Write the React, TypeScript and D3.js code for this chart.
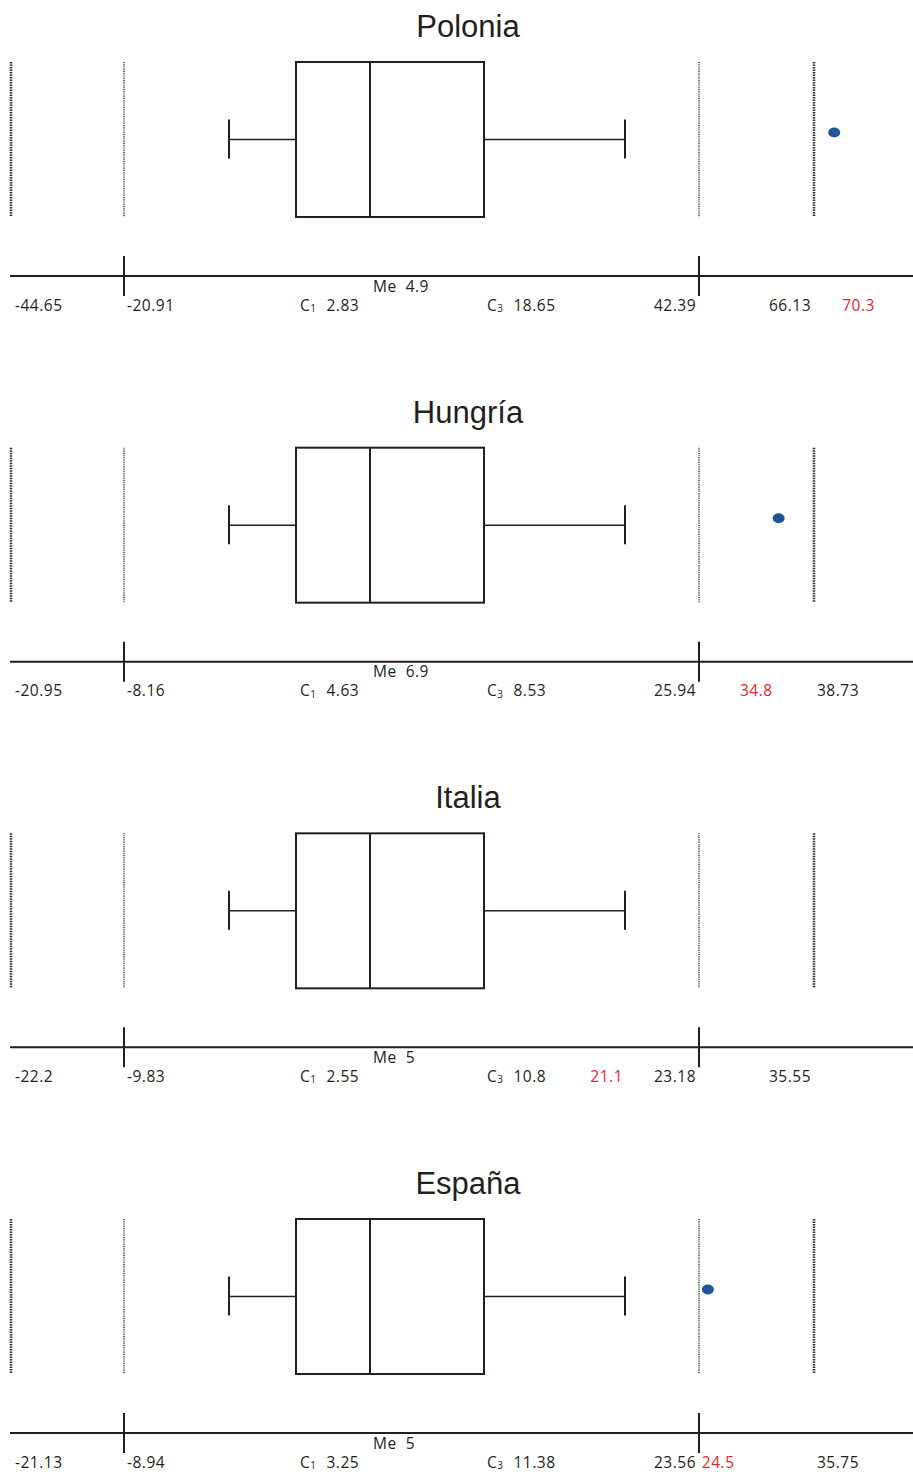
import React from 'react';
import { scaleLinear } from 'd3';

// values (C1 = first quartile, C3 = third quartile)
const countries = ['Polonia', 'Hungría', 'Italia', 'España'];
const outerLow = [-44.65, -20.95, -22.2, -21.13];
const innerLow = [-20.91, -8.16, -9.83, -8.94];
const whiskerLow = [-6.4, -0.4, -2.3, -1.5];
const q1 = [2.83, 4.63, 2.55, 3.25];
const median = [4.9, 6.9, 5, 5];
const q3 = [18.65, 8.53, 10.8, 11.38];
const whiskerHigh = [34.2, 19.9, 21.1, 19.4];
const innerHigh = [42.39, 25.94, 23.18, 23.56];
const outerHigh = [66.13, 38.73, 35.55, 35.75];
const outliers = [70.3, 34.8, null, 24.5];
const highlighted = [70.3, 34.8, 21.1, 24.5];

// schematic (non proportional) placement of the summary points
const stops = [11, 124, 229, 296, 370, 484, 625, 699, 814];
const outerHighAnchor = ['end', 'start', 'end', 'start'];
const redAnchor = ['start', 'end', 'end', 'start'];
const redDx = [8, -6, -2, -6];

const W = 913;
const H = 1472;
const panelH = 385.67;
const boxTop = 62;
const boxBottom = 217;
const axisY = 276;

const labelFont = '"Open Sans", sans-serif';

const Sub = ({ n, v }: { n: string; v: number }) => (
    <>
        <tspan>C</tspan>
        <tspan fontSize={10} dy={1.5}>{n}</tspan>
        <tspan dy={-1.5} dx={10}>{String(v)}</tspan>
    </>
);

const Panel = ({ i }: { i: number }) => {
    const x = scaleLinear()
        .domain([outerLow[i], innerLow[i], whiskerLow[i], q1[i], median[i], q3[i], whiskerHigh[i], innerHigh[i], outerHigh[i]])
        .range(stops);
    const midY = (boxTop + boxBottom) / 2;
    const out = outliers[i];
    const textProps = { fontFamily: labelFont, fontSize: 15.5, letterSpacing: 0.5, fill: '#231f20' };
    const labY = 310.5;

    return (
        <g transform={`translate(0,${i * panelH})`}>
            <text x={468} y={37} textAnchor="middle" fontFamily='"Liberation Sans", Arial, sans-serif' fontSize={31} fill="#231f20">
                {countries[i]}
            </text>

            {[outerLow[i], outerHigh[i]].map((v, k) => (
                <line key={'o' + k} x1={x(v)} x2={x(v)} y1={boxTop} y2={boxBottom}
                    stroke="#333" strokeWidth={2.6} strokeDasharray="1.5 1" />
            ))}
            {[innerLow[i], innerHigh[i]].map((v, k) => (
                <line key={'i' + k} x1={x(v)} x2={x(v)} y1={boxTop} y2={boxBottom}
                    stroke="#666" strokeWidth={1.8} strokeDasharray="1 0.8" />
            ))}

            {/* whiskers */}
            <line x1={x(whiskerLow[i])} x2={x(q1[i])} y1={midY} y2={midY} stroke="#231f20" strokeWidth={1.5} />
            <line x1={x(q3[i])} x2={x(whiskerHigh[i])} y1={midY} y2={midY} stroke="#231f20" strokeWidth={1.5} />
            {[whiskerLow[i], whiskerHigh[i]].map((v, k) => (
                <line key={'w' + k} x1={x(v)} x2={x(v)} y1={midY - 20} y2={midY + 19} stroke="#231f20" strokeWidth={2} />
            ))}

            {/* box */}
            <rect x={x(q1[i])} y={boxTop} width={x(q3[i]) - x(q1[i])} height={boxBottom - boxTop}
                fill="none" stroke="#231f20" strokeWidth={2} />
            <line x1={x(median[i])} x2={x(median[i])} y1={boxTop} y2={boxBottom} stroke="#231f20" strokeWidth={2} />

            {out !== null && (
                <ellipse cx={x(out)} cy={midY - 7} rx={6} ry={5} fill="#1f5595" />
            )}

            {/* axis */}
            <line x1={10} x2={W} y1={axisY} y2={axisY} stroke="#231f20" strokeWidth={2} />
            {[innerLow[i], innerHigh[i]].map((v, k) => (
                <line key={'t' + k} x1={x(v)} x2={x(v)} y1={axisY - 20} y2={axisY + 20} stroke="#231f20" strokeWidth={2} />
            ))}

            <text {...textProps} x={x(outerLow[i]) + 4} y={labY}>{String(outerLow[i])}</text>
            <text {...textProps} x={x(innerLow[i]) + 3} y={labY}>{String(innerLow[i])}</text>
            <text {...textProps} x={x(q1[i]) + 4} y={labY}><Sub n="1" v={q1[i]} /></text>
            <text {...textProps} x={x(median[i]) + 3} y={291.5}>
                <tspan>Me</tspan><tspan dx={9}>{String(median[i])}</tspan>
            </text>
            <text {...textProps} x={x(q3[i]) + 3} y={labY}><Sub n="3" v={q3[i]} /></text>
            <text {...textProps} x={x(innerHigh[i]) - 3} y={labY} textAnchor="end">{String(innerHigh[i])}</text>
            <text {...textProps} x={x(outerHigh[i]) + (outerHighAnchor[i] === 'end' ? -3 : 3)} y={labY}
                textAnchor={outerHighAnchor[i]}>{String(outerHigh[i])}</text>
            <text {...textProps} fill="#e8262c" x={x(highlighted[i]) + redDx[i]} y={labY}
                textAnchor={redAnchor[i]}>{String(highlighted[i])}</text>
        </g>
    );
};

export default function App() {
    return (
        <svg width={W} height={H} style={{ position: 'absolute', left: 0, top: 0, background: '#fff' }}>
            {countries.map((c, i) => <Panel key={c} i={i} />)}
        </svg>
    );
}
